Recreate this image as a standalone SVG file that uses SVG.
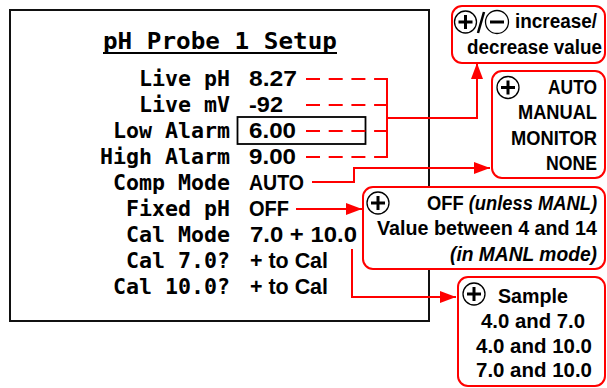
<svg xmlns="http://www.w3.org/2000/svg" width="607" height="388" viewBox="0 0 607 388">
<defs>
<style>
.lbl{font-family:"DejaVu Sans Mono",monospace;font-weight:bold;font-size:21.6px;fill:#000;text-anchor:end}
.val{font-family:"Liberation Sans",Arial,sans-serif;font-weight:bold;font-size:21.5px;fill:#000}
.bt{font-family:"Liberation Sans",Arial,sans-serif;font-weight:bold;font-size:19.5px;fill:#000}
.box{fill:#fff;stroke:#ff0000;stroke-width:2}
.con{fill:none;stroke:#ff0000;stroke-width:2}
.ic{fill:#fff;stroke:#000;stroke-width:1.3}
.sign{stroke:#000;stroke-width:3;fill:none}
</style>
<marker id="ah" markerUnits="userSpaceOnUse" markerWidth="17" markerHeight="13" refX="16" refY="6" orient="auto">
<path d="M0,0 L16,6 L0,12 z" fill="#ff0000"/>
</marker>
<g id="plus"><circle cx="0" cy="0" r="11" class="ic"/><path d="M-7,0 H7 M0,-7 V7" class="sign"/></g>
<g id="minus"><circle cx="0" cy="0" r="11.5" class="ic"/><path d="M-7,0 H7" class="sign"/></g>
</defs>
<rect width="607" height="388" fill="#fff"/>

<g id="lcd">
<rect x="10" y="10" width="419" height="311" fill="none" stroke="#111" stroke-width="2"/>
<text x="103" y="49" font-family="DejaVu Sans Mono,monospace" font-weight="bold" font-size="23.5px" textLength="234" lengthAdjust="spacingAndGlyphs">pH Probe 1 Setup</text>
<line x1="103" y1="53" x2="337" y2="53" stroke="#000" stroke-width="2"/>
<text class="lbl" x="230" y="86">Live pH</text>
<text class="lbl" x="230" y="112">Live mV</text>
<text class="lbl" x="230" y="138">Low Alarm</text>
<text class="lbl" x="230" y="164">High Alarm</text>
<text class="lbl" x="230" y="190">Comp Mode</text>
<text class="lbl" x="230" y="216">Fixed pH</text>
<text class="lbl" x="230" y="242">Cal Mode</text>
<text class="lbl" x="230" y="268">Cal 7.0?</text>
<text class="lbl" x="230" y="294">Cal 10.0?</text>
<text class="val" x="249" y="86" textLength="48" lengthAdjust="spacingAndGlyphs">8.27</text>
<text class="val" x="249" y="112" textLength="34" lengthAdjust="spacingAndGlyphs">-92</text>
<rect x="237.5" y="117" width="128" height="27" fill="none" stroke="#000" stroke-width="1.8"/>
<text class="val" x="249" y="138" textLength="47" lengthAdjust="spacingAndGlyphs">6.00</text>
<text class="val" x="249" y="164" textLength="47" lengthAdjust="spacingAndGlyphs">9.00</text>
<text class="val" x="249" y="190" textLength="55" lengthAdjust="spacingAndGlyphs">AUTO</text>
<text class="val" x="249" y="216" textLength="40" lengthAdjust="spacingAndGlyphs">OFF</text>
<text class="val" x="250" y="242" textLength="107" lengthAdjust="spacingAndGlyphs">7.0 + 10.0</text>
<text class="val" x="250" y="268" textLength="78" lengthAdjust="spacingAndGlyphs">+ to Cal</text>
<text class="val" x="250" y="294" textLength="78" lengthAdjust="spacingAndGlyphs">+ to Cal</text>
</g>

<g id="connectors">
<path class="con" d="M306,79 H387 M306,105 H387 M306,131 H387 M306,157 H387" stroke-dasharray="14 8.7"/>
<path class="con" d="M387,78 V158"/>
<path class="con" d="M387,118 H477 V63" marker-end="url(#ah)"/>
<path class="con" d="M312,182 H354 V168 H490" marker-end="url(#ah)"/>
<path class="con" d="M296,209 H362" marker-end="url(#ah)"/>
<path class="con" d="M352,249 V297 H456" marker-end="url(#ah)"/>
</g>

<g id="box-incdec">
<rect class="box" x="452" y="6" width="153" height="57" rx="10"/>
<use href="#plus" x="465.5" y="22"/>
<line x1="484" y1="12" x2="478" y2="33" stroke="#000" stroke-width="2.5"/>
<use href="#minus" x="497" y="22"/>
<text class="bt" x="515" y="28" textLength="82" lengthAdjust="spacingAndGlyphs">increase/</text>
<text class="bt" x="467" y="54" textLength="135" lengthAdjust="spacingAndGlyphs">decrease value</text>
</g>

<g id="box-comp">
<rect class="box" x="492" y="71" width="113" height="107" rx="10"/>
<use href="#plus" x="508" y="87.5"/>
<text class="bt" x="548" y="94" textLength="49" lengthAdjust="spacingAndGlyphs">AUTO</text>
<text class="bt" x="518" y="119" textLength="79" lengthAdjust="spacingAndGlyphs">MANUAL</text>
<text class="bt" x="511" y="145" textLength="86" lengthAdjust="spacingAndGlyphs">MONITOR</text>
<text class="bt" x="546" y="170" textLength="51" lengthAdjust="spacingAndGlyphs">NONE</text>
</g>

<g id="box-fixed">
<rect class="box" x="363" y="187" width="242" height="82" rx="10"/>
<use href="#plus" x="378" y="203"/>
<text class="bt" x="427" y="210" textLength="170" lengthAdjust="spacingAndGlyphs">OFF <tspan font-style="italic">(unless MANL)</tspan></text>
<text class="bt" x="377" y="235" textLength="220" lengthAdjust="spacingAndGlyphs">Value between 4 and 14</text>
<text class="bt" x="450" y="261" font-style="italic" textLength="147" lengthAdjust="spacingAndGlyphs">(in MANL mode)</text>
</g>

<g id="box-cal">
<rect class="box" x="458" y="277" width="147" height="109" rx="10"/>
<use href="#plus" x="474" y="294"/>
<text class="bt" x="498" y="303" textLength="70" lengthAdjust="spacingAndGlyphs">Sample</text>
<text class="bt" x="481" y="328" textLength="104" lengthAdjust="spacingAndGlyphs">4.0 and 7.0</text>
<text class="bt" x="476" y="353" textLength="116" lengthAdjust="spacingAndGlyphs">4.0 and 10.0</text>
<text class="bt" x="476" y="377" textLength="116" lengthAdjust="spacingAndGlyphs">7.0 and 10.0</text>
</g>
</svg>
